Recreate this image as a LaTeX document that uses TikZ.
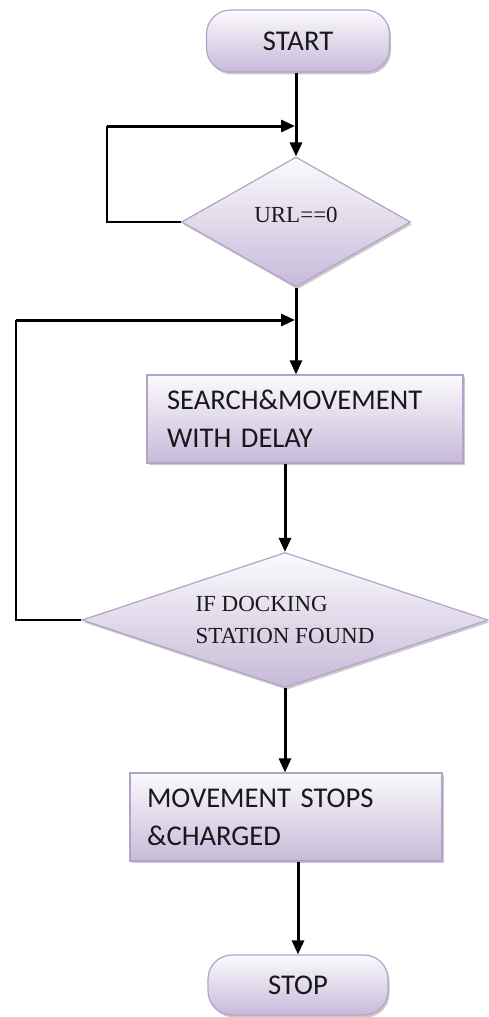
\documentclass[tikz,border=0pt]{standalone}
\usepackage{fontspec}
\setmainfont{Carlito}
\newfontfamily\serifface{Liberation Serif}
\usetikzlibrary{arrows.meta,shapes.geometric,shadows}

\definecolor{boxtop}{HTML}{FBFAFD}
\definecolor{boxbot}{HTML}{C7BAD8}
\definecolor{boxline}{HTML}{B3A3CB}

\begin{document}
\begin{tikzpicture}[
  x=0.5pt, y=-0.5pt,
  font=\fontsize{14.3}{19}\selectfont,
  fl/.style={draw=boxline, line width=0.6pt, top color=boxtop, bottom color=boxbot, text=black!90,
    drop shadow={shadow xshift=0.8pt, shadow yshift=-1.2pt, fill=gray!70, opacity=0.6}},
  term/.style={fl, rounded corners=12pt, minimum width=91.5pt, minimum height=31pt},
  proc/.style={fl, minimum height=44pt, align=left},
  dec/.style={fl, diamond, inner sep=0pt, font=\serifface\fontsize{11.5}{16}\selectfont},
  pf/.style={line width=1.5pt, -{Triangle[length=7pt, width=6pt]}},
  fb/.style={line width=1pt}
]
\useasboundingbox (0,0) rectangle (488,1017);
\node[term] (start) at (298,41) {START};
\node[dec, aspect=1.76, minimum width=114.5pt, minimum height=65pt] (url) at (296,222) {\raisebox{7pt}{URL==0}};
\node[proc, text width=138pt, inner xsep=10pt] (search) at (305,419) {SEARCH\&MOVEMENT\\WITH DELAY};
\node[dec, aspect=3, minimum width=203pt, minimum height=67.5pt, align=left] (dock) at (285,620) {IF DOCKING\\STATION FOUND};
\node[proc, text width=139pt, inner xsep=8.5pt] (stops) at (286,817) {MOVEMENT STOPS\\\&CHARGED};
\node[term, minimum width=90pt, minimum height=30pt] (stop) at (298,985) {STOP};
% loop junctions
\coordinate (j1) at (295,126);
\coordinate (j2) at (295,320);
\coordinate (c1) at (107,126);
\coordinate (c2) at (16,320);
\draw[pf] (start.south -| url.north) -- (url.north);
\draw[pf] (url.south) -- (url.south |- search.north);
\draw[pf] (dock.north |- search.south) -- (dock.north);
\draw[pf] (dock.south) -- (dock.south |- stops.north);
\draw[pf] (stop.north |- stops.south) -- (stop.north);
% feedback loops
\draw[fb] (url.west) -| (c1);
\draw[pf] (c1) -- (j1);
\draw[fb] (dock.west) -| (c2);
\draw[pf] (c2) -- (j2);
\end{tikzpicture}
\end{document}
